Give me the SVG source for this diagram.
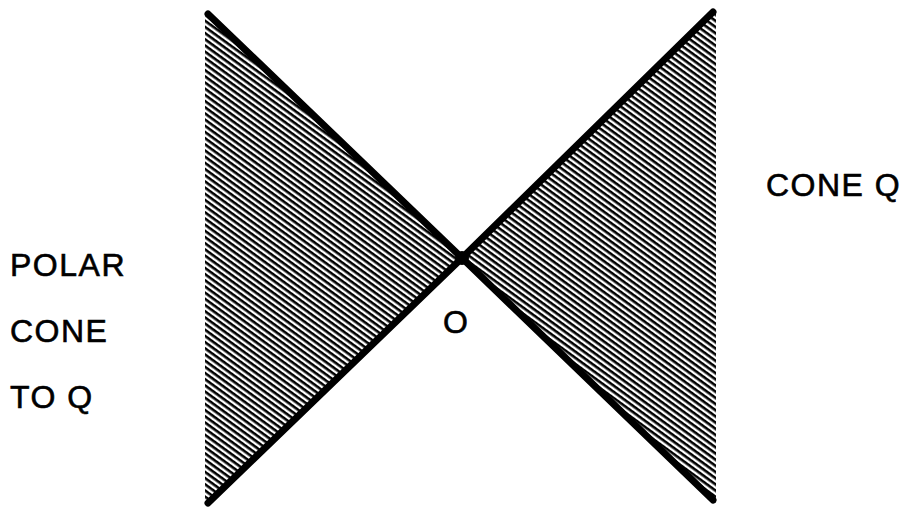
<svg xmlns="http://www.w3.org/2000/svg" width="903" height="509" viewBox="0 0 903 509">
<style>
.lbl{font-family:"Liberation Sans",Arial,Helvetica,sans-serif;font-size:32px;fill:#000;stroke:#000;stroke-width:0.6;letter-spacing:1.5px}
.edge{stroke:#000;stroke-width:7;stroke-linecap:round;fill:none}
</style>
<defs>
<pattern id="hatch" width="20" height="5" patternUnits="userSpaceOnUse" patternTransform="rotate(36)">
<rect x="0" y="0" width="20" height="2.6" fill="#000"/>
</pattern>
</defs>
<rect width="903" height="509" fill="#fff"/>
<g id="polar-cone">
<polygon points="205,12 462,258 205,505" fill="url(#hatch)"/>
</g>
<g id="cone-q">
<polygon points="716,10 462,258 716,503" fill="url(#hatch)"/>
</g>
<g id="connectors">
<line class="edge" x1="208" y1="14" x2="462" y2="258"/>
<line class="edge" x1="208" y1="503" x2="462" y2="258"/>
<line class="edge" x1="713" y1="12" x2="462" y2="258"/>
<line class="edge" x1="713" y1="500" x2="462" y2="258"/>
</g>
<g id="origin">
<circle cx="462" cy="258" r="7" fill="#000"/>
<text class="lbl" x="443" y="333">O</text>
</g>
<g id="labels">
<text class="lbl" x="10" y="276">POLAR</text>
<text class="lbl" x="10" y="342">CONE</text>
<text class="lbl" x="10" y="408">TO Q</text>
<text class="lbl" x="766" y="196">CONE Q</text>
</g>
</svg>
